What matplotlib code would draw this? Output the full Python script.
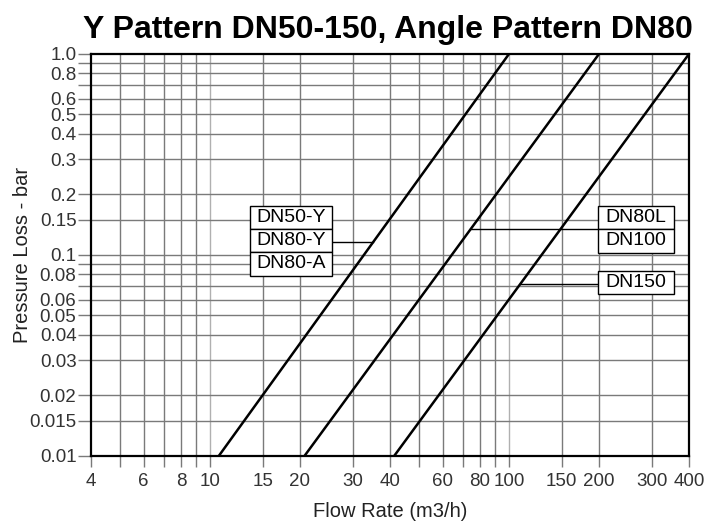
import numpy as np
import matplotlib
matplotlib.use("Agg")
import matplotlib.pyplot as plt
from matplotlib.patches import Rectangle

plt.rcParams['font.family'] = ['Liberation Sans', 'DejaVu Sans']

# ---- data ----
title = "Y Pattern DN50-150, Angle Pattern DN80"
xlabel = "Flow Rate (m3/h)"
ylabel = "Pressure Loss - bar"

line1_flow = [10.7, 100]
line1_dp = [0.01, 1.0]
line2_flow = [20.7, 200]
line2_dp = [0.01, 1.0]
line3_flow = [41.3, 400]
line3_dp = [0.01, 1.0]

x_grid = [5, 6, 7, 8, 9, 10, 15, 20, 30, 40, 50, 60, 70, 80, 90, 100, 150, 200, 300]
x_ticks = [4, 6, 8, 10, 15, 20, 30, 40, 60, 80, 100, 150, 200, 300, 400]
x_ticklabels = ["4", "6", "8", "10", "15", "20", "30", "40", "60", "80", "100", "150", "200", "300", "400"]
y_grid = [0.015, 0.02, 0.03, 0.04, 0.05, 0.06, 0.07, 0.08, 0.09, 0.1,
          0.15, 0.2, 0.3, 0.4, 0.5, 0.6, 0.7, 0.8, 0.9]
y_ticks = [0.01, 0.015, 0.02, 0.03, 0.04, 0.05, 0.06, 0.08, 0.1, 0.15, 0.2, 0.3, 0.4, 0.5, 0.6, 0.8, 1.0]
y_ticklabels = ["0.01", "0.015", "0.02", "0.03", "0.04", "0.05", "0.06", "0.08", "0.1", "0.15",
                "0.2", "0.3", "0.4", "0.5", "0.6", "0.8", "1.0"]

left_labels = ["DN50-Y", "DN80-Y", "DN80-A"]
right_labels = ["DN80L", "DN100"]
right_labels2 = ["DN150"]
conn1_dp = 0.1164
conn2_dp = 0.134
conn3_dp = 0.0714

fig = plt.figure(figsize=(7.06, 5.24), dpi=100)
ax = fig.add_axes([0.1289, 0.1298, 0.8470, 0.7672])
ax.set_xscale('log')
ax.set_yscale('log')
ax.set_xlim(4, 400)
ax.set_ylim(0.01, 1.0)

# grid
for xv in x_grid:
    c = '#b0b0b0' if xv in (10, 100) else '#7a7a7a'
    ax.axvline(xv, color=c, lw=1.0, zorder=1)
for yv in y_grid:
    ax.axhline(yv, color='#7a7a7a', lw=1.0, zorder=1)

ax.minorticks_off()
ax.set_xticks(x_grid + [4, 400], minor=True)
ax.set_yticks(y_grid + [0.01, 1.0], minor=True)
ax.set_xticks(x_ticks)
ax.set_xticklabels(x_ticklabels)
ax.set_yticks(y_ticks)
ax.set_yticklabels(y_ticklabels)
ax.tick_params(axis='x', which='both', length=8, width=1.0, color='#7a7a7a',
               labelsize=13.5, labelcolor='#333333', pad=4)
ax.tick_params(axis='y', which='both', length=9.5, width=1.0, color='#7a7a7a',
               labelsize=13.5, labelcolor='#333333', pad=1)

for s in ax.spines.values():
    s.set_linewidth(1.6)
    s.set_color('black')
    s.set_zorder(5)

ax.plot(line1_flow, line1_dp, color='black', lw=1.8, zorder=4, solid_capstyle='butt')
ax.plot(line2_flow, line2_dp, color='black', lw=1.8, zorder=4, solid_capstyle='butt')
ax.plot(line3_flow, line3_dp, color='black', lw=1.8, zorder=4, solid_capstyle='butt')

def flow_at(flow, dp, p):
    lf = np.log10(flow); ld = np.log10(dp)
    return 10 ** np.interp(np.log10(p), ld, lf)

trans = ax.transAxes

def box_stack(labels, x0, x1, ytop, h):
    for i, lab in enumerate(labels):
        yb = ytop - (i + 1) * h
        ax.add_patch(Rectangle((x0, yb), x1 - x0, h, transform=trans, facecolor='white',
                               edgecolor='black', lw=1.0, zorder=6))
        ax.text((x0 + x1) / 2, yb + h / 2, lab, transform=trans, ha='center', va='center',
                fontsize=14, color='black', zorder=7)

h = 0.058
box_stack(left_labels, 0.266, 0.403, 0.6226, h)
box_stack(right_labels, 0.848, 0.975, 0.622, h)
box_stack(right_labels2, 0.848, 0.975, 0.460, h)

# connectors
def axfrac_x(q):
    return (np.log10(q) - np.log10(4)) / 2.0

def axfrac_y(p):
    return (np.log10(p) + 2) / 2.0

q1 = flow_at(line1_flow, line1_dp, conn1_dp)
ax.plot([0.403, axfrac_x(q1)], [axfrac_y(conn1_dp)] * 2, transform=trans, color='black', lw=1.0, zorder=5)
q2 = flow_at(line2_flow, line2_dp, conn2_dp)
ax.plot([axfrac_x(q2), 0.848], [axfrac_y(conn2_dp)] * 2, transform=trans, color='black', lw=1.0, zorder=5)
q3 = flow_at(line3_flow, line3_dp, conn3_dp)
ax.plot([axfrac_x(q3), 0.848], [axfrac_y(conn3_dp)] * 2, transform=trans, color='black', lw=1.0, zorder=5)

fig.text(0.549, 0.942, title, ha='center', va='center', fontsize=23, fontweight='bold', color='black')
ax.set_xlabel(xlabel, fontsize=14.5, color='#222222', labelpad=9)
ax.set_ylabel(ylabel, fontsize=14.5, color='#222222')
ax.yaxis.set_label_coords(-0.098, 0.5)

fig.savefig('out.png', dpi=100)
